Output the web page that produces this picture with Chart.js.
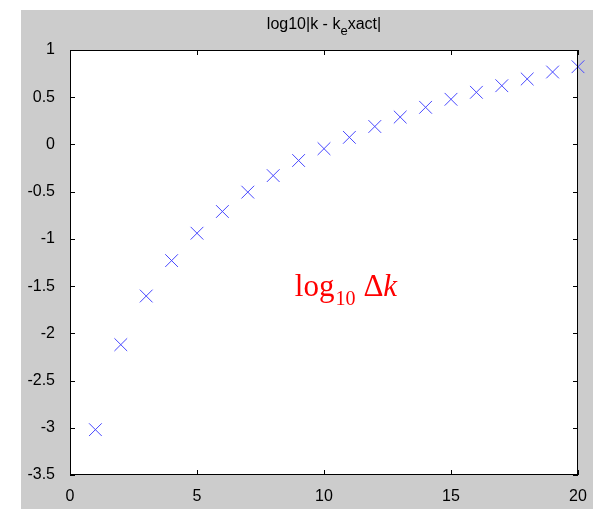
<!DOCTYPE html>
<html>
<head>
<meta charset="utf-8">
<script src="https://cdn.jsdelivr.net/npm/chart.js@4.4.1/dist/chart.umd.min.js"></script>
<style>
  html, body { margin: 0; padding: 0; background: #ffffff; }
  #wrap { position: absolute; left: 21px; top: 10px; width: 572px; height: 499px; background: #cccccc; }
</style>
</head>
<body>
<div id="wrap"><canvas id="myChart" width="572" height="499"></canvas></div>
<script>
"use strict";

// iteration number and log10 of the error
const iterations = [1, 2, 3, 4, 5, 6, 7, 8, 9, 10, 11, 12, 13, 14, 15, 16, 17, 18, 19, 20];
const logError = [-3.02, -2.12, -1.605, -1.23, -0.94, -0.71, -0.505, -0.33, -0.17, -0.045,
  0.075, 0.19, 0.29, 0.393, 0.478, 0.552, 0.622, 0.693, 0.767, 0.823];
const xTicks = [0, 5, 10, 15, 20];
const yTicks = [-3.5, -3, -2.5, -2, -1.5, -1, -0.5, 0, 0.5, 1];

const tickFont = { family: "'Liberation Sans', Arial, sans-serif", size: 16 };
const markColor = "#4848ff";

let points = [];
for (let i = 0; i < iterations.length; i++) {
  points.push({ x: iterations[i], y: logError[i] });
}

// white plot area, box, inward ticks, title and the red label
const matlabAxes = {
  id: "matlabAxes",
  beforeDraw(chart) {
    const ctx = chart.ctx;
    const a = chart.chartArea;
    ctx.save();
    ctx.fillStyle = "#ffffff";
    ctx.fillRect(a.left, a.top, a.right - a.left, a.bottom - a.top);
    ctx.restore();
  },
  afterDraw(chart) {
    const ctx = chart.ctx;
    const a = chart.chartArea;
    const xs = chart.scales.x;
    const ys = chart.scales.y;
    const len = 5;
    ctx.save();
    ctx.strokeStyle = "#000000";
    ctx.lineWidth = 1;
    ctx.strokeRect(a.left + 0.5, a.top + 0.5, a.right - a.left - 1, a.bottom - a.top - 1);
    ctx.beginPath();
    xTicks.forEach(function (v) {
      let px = Math.round(xs.getPixelForValue(v)) + 0.5;
      ctx.moveTo(px, a.bottom);
      ctx.lineTo(px, a.bottom - len);
      ctx.moveTo(px, a.top);
      ctx.lineTo(px, a.top + len);
    });
    yTicks.forEach(function (v) {
      let py = Math.round(ys.getPixelForValue(v)) + 0.5;
      ctx.moveTo(a.left, py);
      ctx.lineTo(a.left + len, py);
      ctx.moveTo(a.right, py);
      ctx.lineTo(a.right - len, py);
    });
    ctx.stroke();

    // title: log10|k - k_exact|
    ctx.fillStyle = "#000000";
    ctx.textBaseline = "alphabetic";
    const big = "16px 'Liberation Sans', Arial, sans-serif";
    const small = "13px 'Liberation Sans', Arial, sans-serif";
    let p1 = "log10|k - k", p2 = "e", p3 = "xact|";
    ctx.font = big;
    let w1 = ctx.measureText(p1).width;
    let w3 = ctx.measureText(p3).width;
    ctx.font = small;
    let w2 = ctx.measureText(p2).width;
    let tx = (a.left + a.right) / 2 - (w1 + w2 + w3) / 2;
    let ty = 18.5;
    ctx.font = big;
    ctx.fillText(p1, tx, ty);
    ctx.font = small;
    ctx.fillText(p2, tx + w1, ty + 6);
    ctx.font = big;
    ctx.fillText(p3, tx + w1 + w2, ty);

    // red label log10 Δk
    const serif = "'Liberation Serif', 'Times New Roman', serif";
    let lx = xs.getPixelForValue(8.85);
    let ly = ys.getPixelForValue(-1.605);
    ctx.fillStyle = "#ff0000";
    ctx.font = "31px " + serif;
    ctx.fillText("log", lx, ly);
    lx += ctx.measureText("log").width + 1;
    ctx.font = "20px " + serif;
    ctx.fillText("10", lx, ly + 9);
    lx += ctx.measureText("10").width + 8;
    ctx.font = "31px " + serif;
    ctx.fillText("\u0394", lx, ly);
    lx += ctx.measureText("\u0394").width;
    ctx.font = "italic 31px " + serif;
    ctx.fillText("k", lx, ly);
    ctx.restore();
  },
};

const config = {
  type: "scatter",
  data: {
    datasets: [
      {
        label: "log10|k - kexact|",
        data: points,
        pointStyle: "crossRot",
        pointRadius: 9,
        pointHoverRadius: 9,
        borderColor: markColor,
        backgroundColor: markColor,
        pointBorderColor: markColor,
        pointBackgroundColor: markColor,
        pointHoverBorderColor: markColor,
        pointBorderWidth: 1,
        clip: false,
      },
    ],
  },
  options: {
    responsive: false,
    animation: false,
    events: [],
    layout: { padding: { top: 40, right: 15, left: 0, bottom: 0 } },
    plugins: {
      legend: { display: false },
      title: { display: false },
      tooltip: { enabled: false },
    },
    scales: {
      x: {
        type: "linear",
        min: 0,
        max: 20,
        afterBuildTicks(scale) {
          scale.ticks = xTicks.map(function (v) { return { value: v }; });
        },
        afterFit(scale) { scale.height = 34; },
        ticks: {
          color: "#000000", font: tickFont, padding: 4, maxRotation: 0,
          callback: function (v) { return String(v); },
        },
        grid: { display: false },
        border: { display: false },
      },
      y: {
        type: "linear",
        min: -3.5,
        max: 1,
        afterBuildTicks(scale) {
          scale.ticks = yTicks.map(function (v) { return { value: v }; });
        },
        afterFit(scale) { scale.width = 49; },
        ticks: {
          color: "#000000", font: tickFont, padding: 7,
          callback: function (v) { return String(v); },
        },
        grid: { display: false },
        border: { display: false },
      },
    },
  },
  plugins: [matlabAxes],
};

new Chart(document.getElementById("myChart"), config);
</script>
</body>
</html>
